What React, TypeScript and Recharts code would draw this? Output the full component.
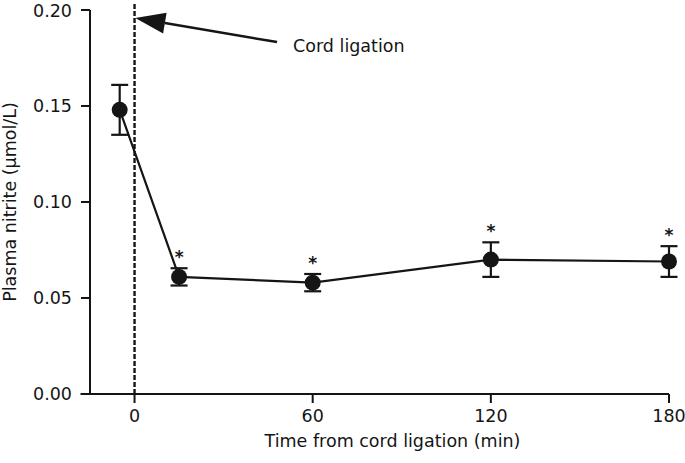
import { LineChart, Line, XAxis, YAxis, ErrorBar, ReferenceLine, LabelList, Label } from 'recharts';

// Plasma nitrite around cord ligation (mean ± SEM)
const times = [-5, 15, 60, 120, 180];
const nitrite = [0.148, 0.061, 0.058, 0.07, 0.069];
const sem = [0.013, 0.0045, 0.0045, 0.009, 0.008];
const significant = [false, true, true, true, true];

const xTicks = [0, 60, 120, 180];
const yTicks = [0, 0.05, 0.1, 0.15, 0.2];

// annotation arrow (data coords): tail -> tip
const arrowTail = { x: 48, y: 0.1833 };
const arrowTip = { x: 0.25, y: 0.1958 };

const data = times.map((t, i) => ({
  time: t,
  value: nitrite[i],
  err: sem[i],
  star: significant[i] ? nitrite[i] + sem[i] : null,
}));

const INK = '#151515';
const FONT = '"DejaVu Sans", sans-serif';

const Arrow = (props: any) => {
  const { x1, y1, x2, y2 } = props;
  const dx = x1 - x2;
  const dy = y1 - y2;
  const len = Math.sqrt(dx * dx + dy * dy);
  const ux = dx / len;
  const uy = dy / len;
  const headLen = 30;
  const half = 10.5;
  const bx = x2 + ux * headLen;
  const by = y2 + uy * headLen;
  const pts = `${x2},${y2} ${bx - uy * half},${by + ux * half} ${bx + uy * half},${by - ux * half}`;
  return (
    <g>
      <line x1={x1} y1={y1} x2={bx} y2={by} stroke={INK} strokeWidth={2.5} />
      <polygon points={pts} fill={INK} />
      <text x={x1 + 16} y={y1 + 10} fontSize={17.5} fontFamily={FONT} fill={INK}>
        Cord ligation
      </text>
    </g>
  );
};

const Star = (props: any) => {
  const { x, y, value } = props;
  if (value == null) return null;
  return (
    <text x={x} y={y - 5} textAnchor="middle" fontSize={17} fontWeight="bold" fontFamily={FONT} fill={INK}>
      *
    </text>
  );
};

export default function App() {
  return (
    <div style={{ position: 'absolute', left: 0, top: 0, background: '#fff' }}>
      <LineChart width={685} height={463} data={data} margin={{ top: 10, right: 16, bottom: 0, left: 0 }}>
        <XAxis
          dataKey="time"
          type="number"
          domain={[-15, 180]}
          ticks={xTicks}
          stroke={INK}
          strokeWidth={2}
          tickSize={9}
          tickMargin={7}
          height={69}
          tick={{ fill: INK, fontSize: 17.5, fontFamily: FONT }}
        >
          <Label
            value="Time from cord ligation (min)"
            position="insideBottom"
            offset={16}
            dx={13}
            fill={INK}
            fontSize={17.5}
            fontFamily={FONT}
          />
        </XAxis>
        <YAxis
          type="number"
          domain={[0, 0.2]}
          ticks={yTicks}
          tickFormatter={(v: number) => v.toFixed(2)}
          stroke={INK}
          strokeWidth={2}
          tickSize={9}
          tickMargin={9}
          width={90}
          tick={{ fill: INK, fontSize: 17.5, fontFamily: FONT }}
        >
          <Label
            value="Plasma nitrite (µmol/L)"
            angle={-90}
            position="insideLeft"
            offset={10}
            fill={INK}
            fontSize={17.5}
            fontFamily={FONT}
            style={{ textAnchor: 'middle' }}
          />
        </YAxis>
        <ReferenceLine
          segment={[{ x: 0, y: 0 }, { x: 0, y: 0.2036 }]}
          stroke={INK}
          strokeWidth={2.4}
          strokeDasharray="5 2"
          ifOverflow="visible"
        />
        <ReferenceLine
          segment={[{ x: -18.2, y: 0 }, { x: -15, y: 0 }]}
          stroke={INK}
          strokeWidth={2}
          ifOverflow="visible"
        />
        <ReferenceLine
          segment={[arrowTail, arrowTip]}
          ifOverflow="visible"
          shape={Arrow}
        />
        <Line
          dataKey="value"
          stroke={INK}
          strokeWidth={2.2}
          dot={{ r: 8, fill: INK, stroke: INK, strokeWidth: 0 }}
          activeDot={false}
          isAnimationActive={false}
        >
          <ErrorBar dataKey="err" width={8.5} stroke={INK} strokeWidth={2.2} />
        </Line>
        <Line
          dataKey="star"
          stroke="none"
          dot={false}
          activeDot={false}
          legendType="none"
          isAnimationActive={false}
        >
          <LabelList dataKey="star" content={Star} />
        </Line>
      </LineChart>
    </div>
  );
}
